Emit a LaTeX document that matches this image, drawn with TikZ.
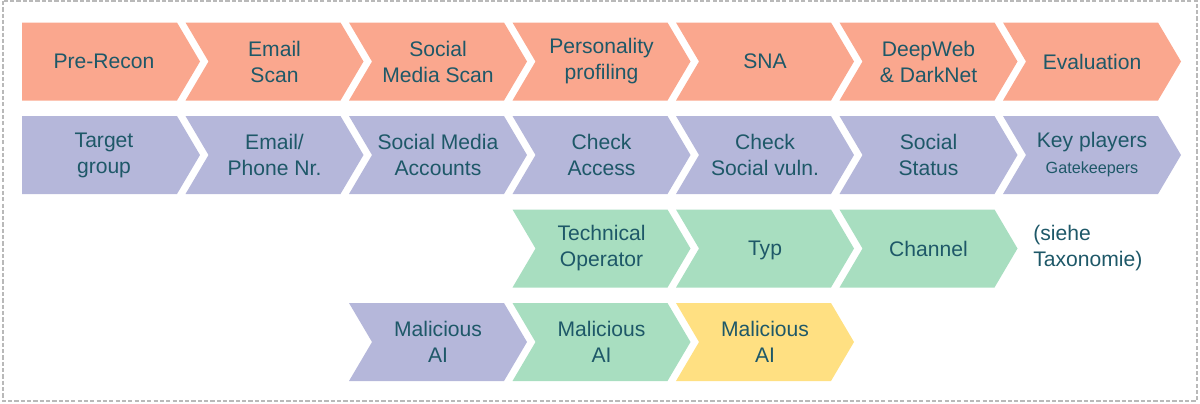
\documentclass[tikz,border=0pt]{standalone}
\usepackage{fontspec}
\setmainfont{Liberation Sans}
\definecolor{salmon}{RGB}{250,167,142}
\definecolor{lavender}{RGB}{181,183,218}
\definecolor{mint}{RGB}{168,222,192}
\definecolor{sand}{RGB}{255,224,130}
\definecolor{tealtext}{RGB}{30,88,104}

% chevron with notch: left x, top y, fill
\newcommand{\chevron}[3]{\fill[#3] (#1,#2) -- ++(155,0) -- ++(23,39) -- ++(-23,39) -- ++(-155,0) -- ++(23,-39) -- cycle;}
% chevron with flat left side
\newcommand{\chevronflat}[3]{\fill[#3] (#1,#2) -- ++(155,0) -- ++(23,39) -- ++(-23,39) -- ++(-155,0) -- cycle;}

\tikzset{lbl/.style={align=center, text=tealtext, inner sep=0pt, font=\fontsize{15}{18.5}\selectfont}}

\begin{document}
\begin{tikzpicture}[x=0.025cm,y=-0.025cm]
\useasboundingbox (0,0) rectangle (1200,403);
\draw[gray!55, line width=0.8pt, dash pattern=on 3pt off 1.5pt] (3,1) rectangle (1197,401);

% phases
\chevronflat{22}{22.5}{salmon}
\foreach \x in {185.5,349,512.5,676,839.5,1003} {\chevron{\x}{22.5}{salmon}}
% targets
\chevronflat{22}{116}{lavender}
\foreach \x in {185.5,349,512.5,676,839.5,1003} {\chevron{\x}{116}{lavender}}
% technical
\foreach \x in {512.5,676,839.5} {\chevron{\x}{209.5}{mint}}
% malicious ai
\chevron{349}{303}{lavender}
\chevron{512.5}{303}{mint}
\chevron{676}{303}{sand}

\node[lbl] (prerecon) at (104,61.5) {Pre-Recon};
\node[lbl] (emailscan) at (274.5,61.5) {Email\\Scan};
\node[lbl] (smscan) at (438,61.5) {Social\\Media Scan};
\node[lbl] (profiling) at (601.5,61.5) {Personality\\profiling};
\node[lbl] (sna) at (765,61.5) {SNA};
\node[lbl] (deepweb) at (928.5,61.5) {DeepWeb\\\& DarkNet};
\node[lbl] (evaluation) at (1092,61.5) {Evaluation};

\node[lbl] (target) at (104,155) {Target\\group};
\node[lbl] (phone) at (274.5,155) {Email/\\Phone Nr.};
\node[lbl] (accounts) at (438,155) {Social Media\\Accounts};
\node[lbl] (access) at (601.5,155) {Check\\Access};
\node[lbl] (vuln) at (765,155) {Check\\Social vuln.};
\node[lbl] (status) at (928.5,155) {Social\\Status};
\node[lbl] (keyplayers) at (1092,155) {Key players\\{\fontsize{11.5}{14}\selectfont Gatekeepers}};

\node[lbl] (operator) at (601.5,248.5) {Technical\\Operator};
\node[lbl] (typ) at (765,250) {Typ};
\node[lbl] (channel) at (928.5,248.5) {Channel};
\node[lbl, align=left, anchor=west] (taxonomie) at (1033,248.5) {(siehe\\Taxonomie)};

\node[lbl] (mal1) at (438,342) {Malicious\\AI};
\node[lbl] (mal2) at (601.5,342) {Malicious\\AI};
\node[lbl] (mal3) at (765,342) {Malicious\\AI};
\end{tikzpicture}
\end{document}
